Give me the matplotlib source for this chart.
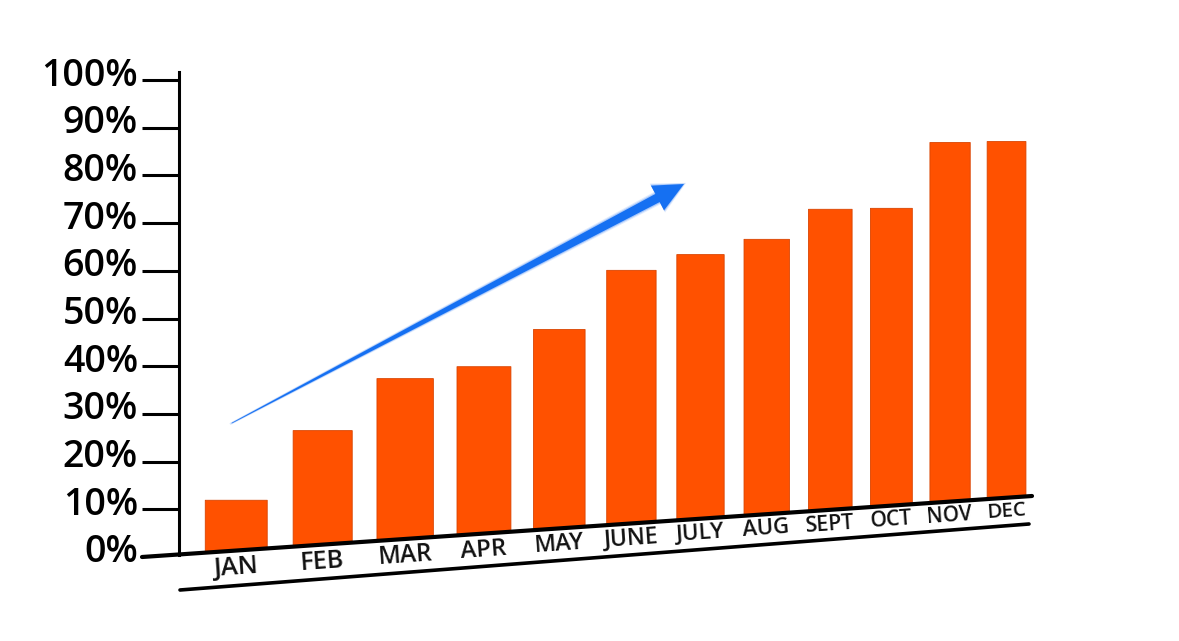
import numpy as np
import matplotlib
matplotlib.use("Agg")
import matplotlib.pyplot as plt
from matplotlib import font_manager
from matplotlib.patches import Polygon
from matplotlib.transforms import IdentityTransform, ScaledTranslation

# ---------------- data ----------------
months = ["JAN", "FEB", "MAR", "APR", "MAY", "JUNE", "JULY", "AUG", "SEPT", "OCT", "NOV", "DEC"]
values = [12.0, 26.6, 37.5, 40.0, 47.8, 60.2, 63.5, 66.7, 73.0, 73.2, 87.0, 87.2]
yticks = [0, 10, 20, 30, 40, 50, 60, 70, 80, 90, 100]
ytick_labels = [f"{t}%" for t in yticks]

# pick a narrow sans if installed
names = {f.name for f in font_manager.fontManager.ttflist}
FONT = "Liberation Sans Narrow" if "Liberation Sans Narrow" in names else "Open Sans"
narrow = FONT == "Liberation Sans Narrow"

# ---------------- layout ----------------
W, H = 1179, 641
fig = plt.figure(figsize=(W / 100, H / 100), dpi=100)
fig.patch.set_facecolor("white")

# perspective x-scale: category index -> pixel column
X0, K, C = 236.0, 88.5, 0.024
def fwd(i):
    i = np.asarray(i, dtype=float)
    return X0 + K * i / (1 + C * i)
def inv(x):
    d = np.asarray(x, dtype=float) - X0
    return d / (K - C * d)

# y: percent -> pixel row (from top)
Y0, PXPCT = 557.0, 4.77
def ydata(yimg):
    return (Y0 - yimg) / PXPCT

AX_LEFT = 179
ax = fig.add_axes([AX_LEFT / W, 0, (W - AX_LEFT) / W, 1])
ax.set_xscale("function", functions=(fwd, inv))
ax.set_xlim(float(inv(AX_LEFT)), float(inv(W)))
ax.set_ylim(ydata(H), ydata(0))
ax.set_facecolor("white")

# baseline (slanted) and lower rule, defined by pixel end points
BASE = ((142, 557), (1032, 496))
LOWER = ((180, 590), (1029, 524))
def line_y_at(line, xpx):
    (x1, y1), (x2, y2) = line
    return y1 + (y2 - y1) * (xpx - x1) / (x2 - x1)

def base_pct(xd):
    return ydata(line_y_at(BASE, fwd(xd)))

BAR_W = 0.7
bar_face = "#FF5100"
bar_edge = "#D84300"
for i, v in enumerate(values):
    l, r = i - BAR_W / 2, i + BAR_W / 2
    ax.fill_between([l, r], [base_pct(l), base_pct(r)], [v, v],
                    facecolor=bar_face, edgecolor=bar_edge, linewidth=0.6, zorder=2)

for line, lw in ((BASE, 3.0), (LOWER, 2.6)):
    (x1, y1), (x2, y2) = line
    ax.plot([inv(x1), inv(x2)], [ydata(y1), ydata(y2)], color="black",
            linewidth=lw, solid_capstyle="round", clip_on=False, zorder=3)

# month labels between the two rules
fs0 = 21 if narrow else 18.5
for i, m in enumerate(months):
    xpx = float(fwd(i))
    ymid = 0.5 * (line_y_at(BASE, xpx) + line_y_at(LOWER, xpx))
    deriv = K / (1 + C * i) ** 2
    fs = fs0 * np.sqrt(deriv / K)
    ax.text(i, ydata(ymid), m, ha="center", va="center", rotation=4,
            fontsize=fs, family=FONT, fontweight="bold" if narrow else "semibold",
            color="#111111", zorder=4, rotation_mode="anchor")

# y axis
for s in ("top", "right", "bottom"):
    ax.spines[s].set_visible(False)
ax.spines["left"].set_linewidth(2.2)
ax.spines["left"].set_bounds(ydata(554.5), ydata(72))
ax.spines["left"].set_zorder(3)
ax.set_xticks([])
ax.set_yticks(yticks, ytick_labels)
ax.tick_params(axis="y", length=26.6, width=2.2, pad=3,
               labelsize=29 if narrow else 27, colors="black")
for lab in ax.get_yticklabels():
    lab.set_family(FONT)
    lab.set_fontweight("bold" if narrow else "semibold")
    lab.set_transform(lab.get_transform() + ScaledTranslation(0, 0.09, fig.dpi_scale_trans))
ax.yaxis.get_major_ticks()[0].tick1line.set_visible(False)

# blue trend arrow (pixel coordinates of image -> display)
TAIL = np.array([232.0, 423.0])
TIP = np.array([684.0, 184.0])
vec = TIP - TAIL
u = vec / np.linalg.norm(vec)
n = np.array([-u[1], u[0]])
head_len, head_half, shaft_half, tail_half = 30.0, 14.0, 4.6, 0.3
hb = TIP - head_len * u
def arrow_poly(grow):
    pts = [TAIL + (tail_half + grow * 0.3) * n - grow * u,
           hb + (shaft_half + grow) * n,
           hb + (head_half + grow) * n,
           TIP + grow * u,
           hb - (head_half + grow) * n,
           hb - (shaft_half + grow) * n,
           TAIL - (tail_half + grow * 0.3) * n - grow * u]
    pts = np.array(pts)
    pts[:, 1] = H - pts[:, 1]
    return pts

for grow, alpha in ((2.4, 0.15), (1.2, 0.3)):
    fig.patches.append(Polygon(arrow_poly(grow), closed=True, facecolor="#2F7BF5",
                               edgecolor="none", alpha=alpha,
                               transform=IdentityTransform(), figure=fig))
fig.patches.append(Polygon(arrow_poly(0.0), closed=True, facecolor="#1570F2",
                           edgecolor="none", transform=IdentityTransform(), figure=fig))

fig.savefig("out.png", dpi=100, facecolor="white")
